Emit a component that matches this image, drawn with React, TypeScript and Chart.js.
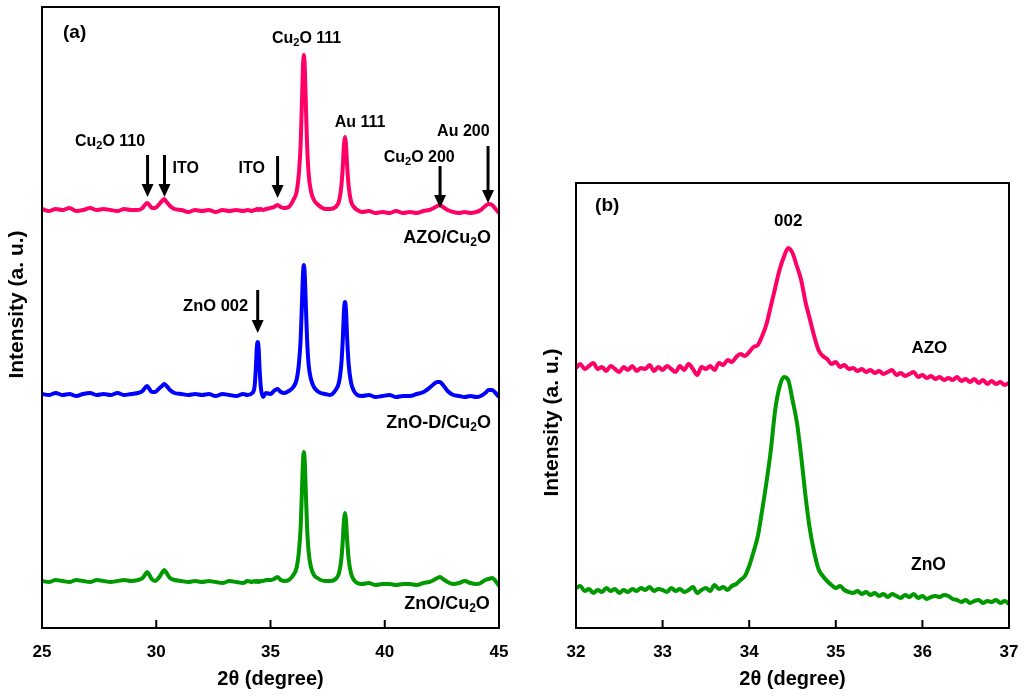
import React, { useEffect, useRef } from 'react';
import { Chart, registerables } from 'chart.js';

Chart.register(...registerables);

// ---------- Panel (a) data ----------
const A_THETA = [
  25.0, 25.3, 25.6, 25.9, 26.2, 26.5, 26.8, 27.1, 27.4, 27.7,
  28.0, 28.3, 28.6, 28.9, 29.2, 29.4, 29.5, 29.6, 29.7, 29.8,
  29.95, 30.1, 30.25, 30.35, 30.45, 30.6, 30.8, 31.1, 31.4, 31.7,
  32.0, 32.3, 32.6, 32.9, 33.2, 33.5, 33.8, 34.0, 34.2, 34.3,
  34.36, 34.4, 34.44, 34.48, 34.52, 34.58, 34.68, 34.8, 35.0, 35.15,
  35.3, 35.45, 35.6, 35.8, 36.0, 36.15, 36.25, 36.32, 36.38, 36.42,
  36.46, 36.5, 36.54, 36.6, 36.67, 36.77, 36.9, 37.05, 37.2, 37.4,
  37.6, 37.85, 38.0, 38.1, 38.16, 38.22, 38.26, 38.3, 38.36, 38.42,
  38.52, 38.65, 38.8, 39.0, 39.3, 39.6, 39.9, 40.2, 40.5, 40.8,
  41.1, 41.4, 41.7, 41.95, 42.15, 42.3, 42.42, 42.55, 42.75, 43.0,
  43.25, 43.5, 43.75, 44.0, 44.2, 44.4, 44.55, 44.7, 44.85, 45.0,
];

const A_AZO = [
  419, 417, 419, 418, 420, 417, 418, 420, 418, 419,
  418, 417, 419, 418, 418, 420, 423, 425, 423, 420,
  420, 423, 427, 429, 426, 422, 419, 418, 416, 418,
  417, 418, 416, 418, 417, 418, 417, 418, 417, 418,
  418, 419, 418, 419, 418, 419, 418, 419, 420, 421,
  423, 421, 420, 421, 428, 437, 457, 484, 530, 561,
  573, 561, 530, 484, 454, 437, 428, 424, 421, 419,
  419, 421, 427, 442, 460, 485, 491, 485, 460, 442,
  427, 421, 418, 416, 417, 415, 416, 415, 417, 415,
  416, 415, 417, 418, 420, 422, 423, 421, 418, 416,
  415, 416, 415, 416, 418, 422, 424, 423, 419, 415,
];

const A_ZNOD = [
  234, 233, 235, 233, 234, 232, 234, 235, 233, 234,
  233, 235, 233, 234, 235, 237, 240, 242, 239, 236,
  236, 239, 242, 244, 242, 238, 235, 234, 233, 234,
  233, 234, 232, 234, 233, 232, 234, 233, 235, 241,
  260, 280, 286, 280, 260, 240, 231, 235, 234, 237,
  239, 236, 235, 237, 241, 249, 266, 289, 327, 353,
  363, 353, 327, 289, 263, 249, 241, 237, 235, 234,
  233, 238, 246, 264, 287, 319, 326, 319, 287, 264,
  246, 237, 233, 232, 233, 231, 232, 233, 231, 232,
  232, 234, 236, 240, 244, 246, 246, 243, 237, 233,
  232, 231, 232, 231, 232, 235, 238, 238, 235, 231,
];

const A_ZNO = [
  47, 46, 48, 47, 46, 48, 47, 46, 48, 47,
  46, 47, 48, 47, 48, 50, 53, 56, 53, 49,
  47, 50, 55, 58, 55, 50, 48, 47, 46, 47,
  46, 47, 46, 45, 47, 46, 45, 47, 46, 47,
  46, 47, 46, 47, 46, 47, 47, 48, 48, 49,
  51, 48, 47, 48, 53, 61, 78, 101, 140, 166,
  176, 166, 140, 101, 76, 61, 53, 50, 48, 47,
  47, 49, 55, 69, 86, 109, 115, 109, 86, 69,
  55, 48, 45, 44, 45, 43, 44, 44, 43, 44,
  44, 43, 45, 46, 48, 50, 51, 49, 46, 44,
  45, 47, 45, 44, 45, 48, 49, 50, 47, 42,
];

const A_X_TICKS = [25, 30, 35, 40, 45];

// ---------- Panel (b) data ----------
const B_THETA = [
  32.0, 32.05, 32.1, 32.15, 32.2, 32.25, 32.3, 32.35, 32.4, 32.45,
  32.5, 32.55, 32.6, 32.65, 32.7, 32.75, 32.8, 32.85, 32.9, 32.95,
  33.0, 33.05, 33.1, 33.15, 33.2, 33.25, 33.3, 33.35, 33.4, 33.45,
  33.5, 33.55, 33.6, 33.65, 33.7, 33.75, 33.8, 33.85, 33.9, 33.95,
  34.0, 34.05, 34.1, 34.15, 34.2, 34.25, 34.3, 34.35, 34.4, 34.45,
  34.5, 34.55, 34.6, 34.65, 34.7, 34.75, 34.8, 34.85, 34.9, 34.95,
  35.0, 35.05, 35.1, 35.15, 35.2, 35.25, 35.3, 35.35, 35.4, 35.45,
  35.5, 35.55, 35.6, 35.65, 35.7, 35.75, 35.8, 35.85, 35.9, 35.95,
  36.0, 36.05, 36.1, 36.15, 36.2, 36.25, 36.3, 36.35, 36.4, 36.45,
  36.5, 36.55, 36.6, 36.65, 36.7, 36.75, 36.8, 36.85, 36.9, 36.95,
  37.0,
];

const B_AZO = [
  234, 238, 233, 236, 239, 233, 235, 231, 236, 233,
  230, 235, 232, 236, 231, 234, 233, 237, 231, 235,
  232, 236, 233, 230, 236, 232, 238, 233, 227, 235,
  233, 236, 232, 239, 237, 242, 240, 245, 248, 246,
  250, 255, 257, 266, 278, 296, 314, 332, 345, 354,
  349, 336, 322, 300, 283, 266, 252, 246, 243, 238,
  240, 235, 237, 233, 234, 231, 233, 230, 232, 229,
  231, 228, 230, 232, 227, 229, 226, 228, 230, 225,
  227, 224, 226, 223, 225, 222, 224, 222, 225, 221,
  223, 220, 223, 219, 222, 218, 221, 218, 220, 217,
  219,
];

const B_ZNO = [
  14, 16, 11, 13, 9, 12, 10, 14, 11, 13,
  9, 12, 10, 13, 11, 14, 12, 15, 11, 13,
  12, 10, 14, 11, 13, 10, 12, 15, 9, 12,
  14, 11, 17, 13, 15, 12, 16, 18, 22, 26,
  36, 50, 66, 92, 120, 152, 192, 215, 225, 222,
  202, 180, 146, 106, 73, 50, 33, 26, 21, 17,
  14, 16, 12, 10, 9, 11, 8, 10, 7, 9,
  6, 8, 5, 8, 6, 4, 7, 5, 8, 4,
  6, 3, 5, 6, 5, 7, 6, 3, 2, 0,
  2, -1, 1, 2, -1, 1, 0, 2, -1, 1,
  -2,
];

const B_X_TICKS = [32, 33, 34, 35, 36, 37];

const PINK = '#FF0066';
const BLUE = '#0000FF';
const GREEN = '#009900';

type Label = { text: string; x: number; y: number; align: CanvasTextAlign; size: number };
type Arrow = { x: number; from: number; to: number };

const A_LABELS: Label[] = [
  { text: '(a)', x: 25.92, y: 595, align: 'left', size: 19 },
  { text: 'Cu_2O 111', x: 36.58, y: 589, align: 'center', size: 16 },
  { text: 'Au 111', x: 38.92, y: 505, align: 'center', size: 16 },
  { text: 'Cu_2O 110', x: 27.98, y: 486, align: 'center', size: 16 },
  { text: 'ITO', x: 31.29, y: 459, align: 'center', size: 16 },
  { text: 'ITO', x: 34.18, y: 459, align: 'center', size: 16 },
  { text: 'Cu_2O 200', x: 41.51, y: 470, align: 'center', size: 16 },
  { text: 'Au 200', x: 43.44, y: 496, align: 'center', size: 16 },
  { text: 'AZO/Cu_2O', x: 44.65, y: 390, align: 'right', size: 18 },
  { text: 'ZnO 002', x: 32.6, y: 322, align: 'center', size: 16.5 },
  { text: 'ZnO-D/Cu_2O', x: 44.65, y: 205, align: 'right', size: 18 },
  { text: 'ZnO/Cu_2O', x: 44.6, y: 24, align: 'right', size: 18 },
];

const A_ARROWS: Arrow[] = [
  { x: 29.62, from: 473, to: 431 },
  { x: 30.36, from: 473, to: 431 },
  { x: 35.31, from: 472, to: 430 },
  { x: 42.42, from: 462, to: 420 },
  { x: 44.52, from: 482, to: 425 },
  { x: 34.44, from: 338, to: 295 },
];

const B_LABELS: Label[] = [
  { text: '(b)', x: 32.22, y: 396, align: 'left', size: 19 },
  { text: '002', x: 34.45, y: 381, align: 'center', size: 17 },
  { text: 'AZO', x: 36.08, y: 254, align: 'center', size: 17 },
  { text: 'ZnO', x: 36.07, y: 37, align: 'center', size: 17.5 },
];

const B_ARROWS: Arrow[] = [];

const Y_TITLE = 'Intensity (a. u.)';
const X_TITLE = '2θ (degree)';

const FONT = '"Liberation Sans", Arial, sans-serif';

function drawRich(ctx: CanvasRenderingContext2D, text: string, x: number, y: number, align: CanvasTextAlign, size: number) {
  const parts = text.split(/(_\d)/).filter((p) => p.length > 0);
  const main = `bold ${size}px ${FONT}`;
  const sub = `bold ${Math.round(size * 0.68)}px ${FONT}`;
  const segs = parts.map((p) => (p.startsWith('_') ? { t: p.slice(1), sub: true } : { t: p, sub: false }));
  let total = 0;
  const widths: number[] = [];
  for (const s of segs) {
    ctx.font = s.sub ? sub : main;
    const w = ctx.measureText(s.t).width;
    widths.push(w);
    total += w;
  }
  let cx = x;
  if (align === 'center') cx = x - total / 2;
  else if (align === 'right') cx = x - total;
  ctx.textAlign = 'left';
  ctx.textBaseline = 'middle';
  ctx.fillStyle = '#000';
  segs.forEach((s, i) => {
    ctx.font = s.sub ? sub : main;
    ctx.fillText(s.t, cx, s.sub ? y + size * 0.27 : y);
    cx += widths[i];
  });
}

function makeDecor(labels: Label[], arrows: Arrow[], ticks: number[], yTitleX: number, yTitleShift: number) {
  return {
    id: 'decor',
    afterDatasetsDraw(chart: any) {
      const { ctx, chartArea: ca, scales } = chart;
      const xs = scales.x;
      const ys = scales.y;
      ctx.save();
      ctx.strokeStyle = '#000';
      ctx.fillStyle = '#000';
      ctx.lineWidth = 2;
      ctx.strokeRect(ca.left, ca.top, ca.right - ca.left, ca.bottom - ca.top);
      ctx.beginPath();
      for (const t of ticks) {
        const px = xs.getPixelForValue(t);
        ctx.moveTo(px, ca.bottom);
        ctx.lineTo(px, ca.bottom - 8);
      }
      ctx.stroke();
      for (const a of arrows) {
        const px = xs.getPixelForValue(a.x);
        const y0 = ys.getPixelForValue(a.from);
        const y1 = ys.getPixelForValue(a.to);
        ctx.lineWidth = 3;
        ctx.beginPath();
        ctx.moveTo(px, y0);
        ctx.lineTo(px, y1 - 10);
        ctx.stroke();
        ctx.beginPath();
        ctx.moveTo(px - 6, y1 - 13);
        ctx.lineTo(px + 6, y1 - 13);
        ctx.lineTo(px, y1);
        ctx.closePath();
        ctx.fill();
      }
      for (const l of labels) {
        drawRich(ctx, l.text, xs.getPixelForValue(l.x), ys.getPixelForValue(l.y), l.align, l.size);
      }
      // y-axis title
      ctx.translate(yTitleX, (ca.top + ca.bottom) / 2 + yTitleShift);
      ctx.rotate(-Math.PI / 2);
      ctx.font = `bold 21px ${FONT}`;
      ctx.textAlign = 'center';
      ctx.textBaseline = 'middle';
      ctx.fillStyle = '#000';
      ctx.fillText(Y_TITLE, 0, 0);
      ctx.restore();
    },
  };
}

function series(xs: number[], ys: number[], color: string) {
  return {
    data: xs.map((x, i) => ({ x, y: ys[i] })),
    borderColor: color,
    backgroundColor: color,
    borderWidth: 4,
    pointRadius: 0,
    cubicInterpolationMode: 'monotone' as const,
    fill: false,
  };
}

function buildConfig(opts: {
  datasets: any[];
  xmin: number;
  xmax: number;
  step: number;
  ymin: number;
  ymax: number;
  padding: { left: number; top: number; right: number; bottom: number };
  yWidth: number;
  plugin: any;
}) {
  return {
    type: 'line' as const,
    data: { datasets: opts.datasets },
    options: {
      responsive: false,
      animation: false as const,
      layout: { padding: opts.padding },
      plugins: { legend: { display: false }, tooltip: { enabled: false } },
      scales: {
        x: {
          type: 'linear' as const,
          min: opts.xmin,
          max: opts.xmax,
          ticks: {
            stepSize: opts.step,
            color: '#000',
            font: { family: FONT, size: 17, weight: 'bold' as const },
            padding: 14,
            maxRotation: 0,
          },
          grid: { display: false, drawTicks: false },
          border: { display: false },
          title: {
            display: true,
            text: X_TITLE,
            color: '#000',
            font: { family: FONT, size: 20, weight: 'bold' as const },
            padding: 5,
          },
          afterFit: (s: any) => {
            s.height = 68;
            s.paddingRight = 0;
            s.paddingLeft = 0;
          },
        },
        y: {
          type: 'linear' as const,
          min: opts.ymin,
          max: opts.ymax,
          ticks: { display: false },
          grid: { display: false, drawTicks: false },
          border: { display: false },
          title: { display: false },
          afterFit: (s: any) => {
            s.width = opts.yWidth;
          },
        },
      },
    },
    plugins: [opts.plugin],
  };
}

export default function App() {
  const refA = useRef<HTMLCanvasElement>(null);
  const refB = useRef<HTMLCanvasElement>(null);

  useEffect(() => {
    const chartA = new Chart(
      refA.current as HTMLCanvasElement,
      buildConfig({
        datasets: [
          series(A_THETA, A_AZO, PINK),
          series(A_THETA, A_ZNOD, BLUE),
          series(A_THETA, A_ZNO, GREEN),
        ],
        xmin: 25,
        xmax: 45,
        step: 5,
        ymin: 0,
        ymax: 621,
        padding: { left: 0, top: 7, right: 21, bottom: 0 },
        yWidth: 42,
        plugin: makeDecor(A_LABELS, A_ARROWS, A_X_TICKS, 17, -13),
      }) as any
    );
    const chartB = new Chart(
      refB.current as HTMLCanvasElement,
      buildConfig({
        datasets: [series(B_THETA, B_AZO, PINK), series(B_THETA, B_ZNO, GREEN)],
        xmin: 32,
        xmax: 37,
        step: 1,
        ymin: -26,
        ymax: 419,
        padding: { left: 0, top: 183, right: 15, bottom: 0 },
        yWidth: 56,
        plugin: makeDecor(B_LABELS, B_ARROWS, B_X_TICKS, 32, 17),
      }) as any
    );
    return () => {
      chartA.destroy();
      chartB.destroy();
    };
  }, []);

  return (
    <div style={{ position: 'fixed', left: 0, top: 0, width: 1024, height: 696, background: '#fff', overflow: 'hidden' }}>
      <canvas
        ref={refA}
        width={520}
        height={696}
        style={{ position: 'absolute', left: 0, top: 0, width: 520, height: 696 }}
      />
      <canvas
        ref={refB}
        width={504}
        height={696}
        style={{ position: 'absolute', left: 520, top: 0, width: 504, height: 696 }}
      />
    </div>
  );
}
